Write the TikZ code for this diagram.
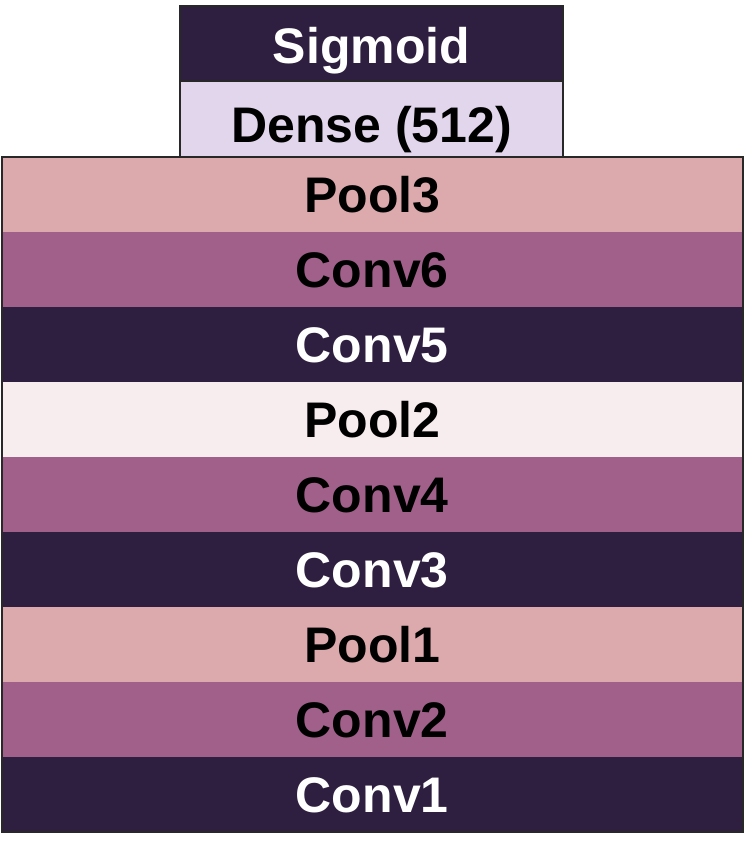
\documentclass[tikz,border=0pt]{standalone}
\usepackage{fontspec}
\setmainfont{Liberation Sans}
\definecolor{cdark}{RGB}{46,31,64}
\definecolor{cmid}{RGB}{161,96,138}
\definecolor{cpink}{RGB}{220,169,173}
\definecolor{clight}{RGB}{247,236,238}
\definecolor{clav}{RGB}{226,214,236}
\definecolor{cline}{RGB}{40,40,40}
\tikzset{
  band/.style={minimum width=741.5pt, minimum height=75pt, inner sep=0pt, outer sep=0pt,
    font=\fontsize{50}{56}\selectfont\bfseries, anchor=center, text height=37pt, text depth=0pt},
  topbox/.style={minimum width=383pt, inner sep=0pt, outer sep=0pt, draw=cline, line width=1.6pt,
    font=\fontsize{50}{56}\selectfont\bfseries, anchor=center, text depth=0pt},
  darkband/.style={fill=cdark, text=white},
  midband/.style={fill=cmid, text=black},
  pinkband/.style={fill=cpink, text=black},
  lightband/.style={fill=clight, text=black},
  frame/.style={draw=cline, line width=2pt}
}
\begin{document}
\begin{tikzpicture}[x=1pt,y=-1pt]
\useasboundingbox (0,0) rectangle (746,856);
\fill[white] (0,0) rectangle (746,856);
\node[band,pinkband]  (pool3) at (372.25,194) {Pool3};
\node[band,midband]   (conv6) at (372.25,269) {Conv6};
\node[band,darkband]  (conv5) at (372.25,344) {Conv5};
\node[band,lightband] (pool2) at (372.25,419) {Pool2};
\node[band,midband]   (conv4) at (372.25,494) {Conv4};
\node[band,darkband]  (conv3) at (372.25,569) {Conv3};
\node[band,pinkband]  (pool1) at (372.25,644) {Pool1};
\node[band,midband]   (conv2) at (372.25,719) {Conv2};
\node[band,darkband]  (conv1) at (372.25,794) {Conv1};
\draw[frame] (pool3.north west) rectangle (conv1.south east);
\node[topbox,darkband,minimum height=75pt,text height=41pt] (sigmoid) at (371.5,43.5) {Sigmoid};
\node[topbox,fill=clav,text=black,minimum height=75.5pt,text height=47pt] (dense) at (371.5,118.75) {Dense (512)};
\end{tikzpicture}
\end{document}
